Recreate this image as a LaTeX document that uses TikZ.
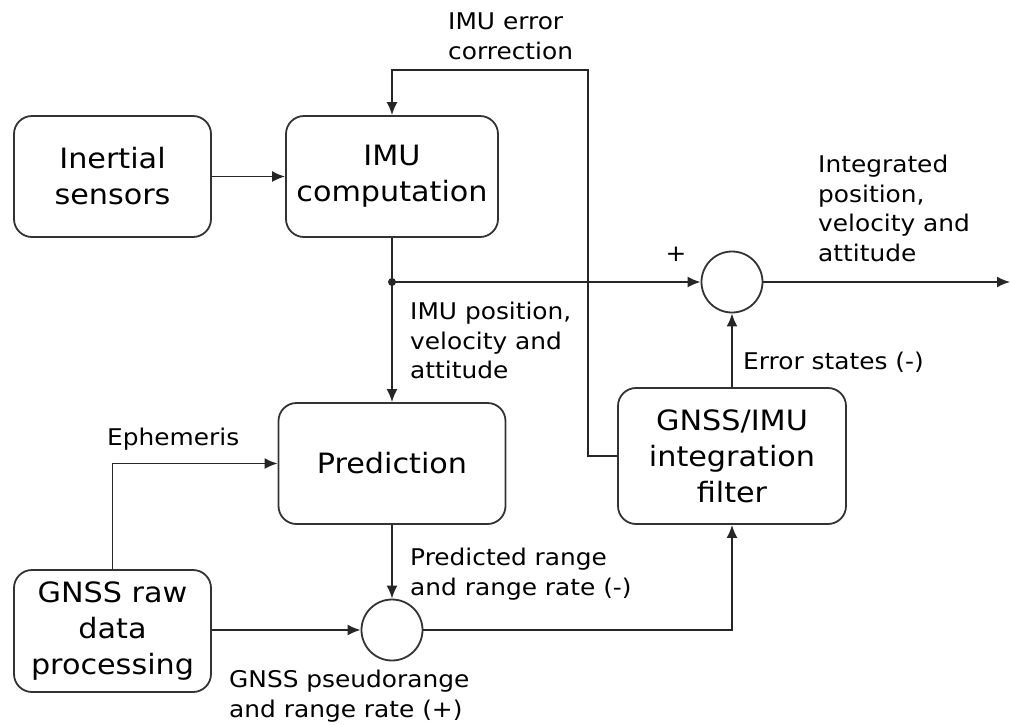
\documentclass[tikz,border=0pt]{standalone}
\usepackage{fontspec}
\setmainfont{DejaVu Sans}[FakeStretch=1.08]
\usetikzlibrary{arrows.meta}

\begin{document}
\begin{tikzpicture}[x=1pt,y=-1pt,
  box/.style={draw=black!80, line width=1.8pt, rounded corners=18pt,
    align=center, font=\fontsize{28}{36}\selectfont, inner sep=0pt},
  sumnode/.style={draw=black!80, line width=1.8pt, circle,
    minimum size=61pt, inner sep=0pt},
  lbl/.style={align=left, font=\fontsize{23}{29.5}\selectfont,
    anchor=north west, inner sep=0pt},
  conn/.style={draw=black!85, line width=1.8pt,
    -{Latex[length=13pt,width=11pt]}}]
\useasboundingbox (0,0) rectangle (1010,724);

% processing blocks
\node[box, minimum width=197pt, minimum height=121pt] (ins)  at (112.5,176.5) {Inertial\\sensors};
\node[box, minimum width=212pt, minimum height=121pt] (imu)  at (392,176.5)   {IMU\\computation};
\node[box, minimum width=227pt, minimum height=121pt] (pred) at (392,463.5)   {Prediction};
\node[box, minimum width=197pt, minimum height=122pt] (raw)  at (112.5,631)   {GNSS raw\\data\\processing};
\node[box, minimum width=228pt, minimum height=136pt] (filt) at (732,456)     {GNSS/IMU\\integration\\filter};

% summing junctions
\node[sumnode] (s1) at (732,282) {};
\node[sumnode] (s2) at (392,630) {};

% branch points and free ends
\coordinate (j)   at (imu.south |- s1.west);
\coordinate (fb)  at (588,70);
\coordinate (out) at (1010,282);

% connectors
\draw[conn] (ins) -- (imu);
\draw[conn] (imu.south) -- (pred.north);
\fill[black!85] (j) circle (4pt);
\draw[conn] (j) -- (s1.west);
\draw[conn] (s1.east) -- (out);
\draw[conn] (filt.north) -- (s1.south);
\draw[conn] (filt.west) -| (fb) -| (imu.north);
\draw[conn] (pred.south) -- (s2.north);
\draw[conn] (raw.east |- s2.west) -- (s2.west);
\draw[conn] (s2.east) -| (filt.south);
\draw[conn] (raw.north) |- (pred.west);

% signal labels
\node[lbl] (l1) at (448,13)  {IMU error\\correction};
\node[lbl] (l2) at (818,155) {Integrated\\position,\\velocity and\\attitude};
\node[font=\fontsize{23}{26}\selectfont, inner sep=0pt] (l3) at (676,254) {+};
\node[lbl] (l4) at (410,302) {IMU position,\\velocity and\\attitude};
\node[lbl] (l5) at (743,352) {Error states (-)};
\node[lbl] (l6) at (107,428) {Ephemeris};
\node[lbl] (l7) at (410,548) {Predicted range\\and range rate (-)};
\node[lbl] (l8) at (229,670) {GNSS pseudorange\\and range rate (+)};
\end{tikzpicture}
\end{document}
